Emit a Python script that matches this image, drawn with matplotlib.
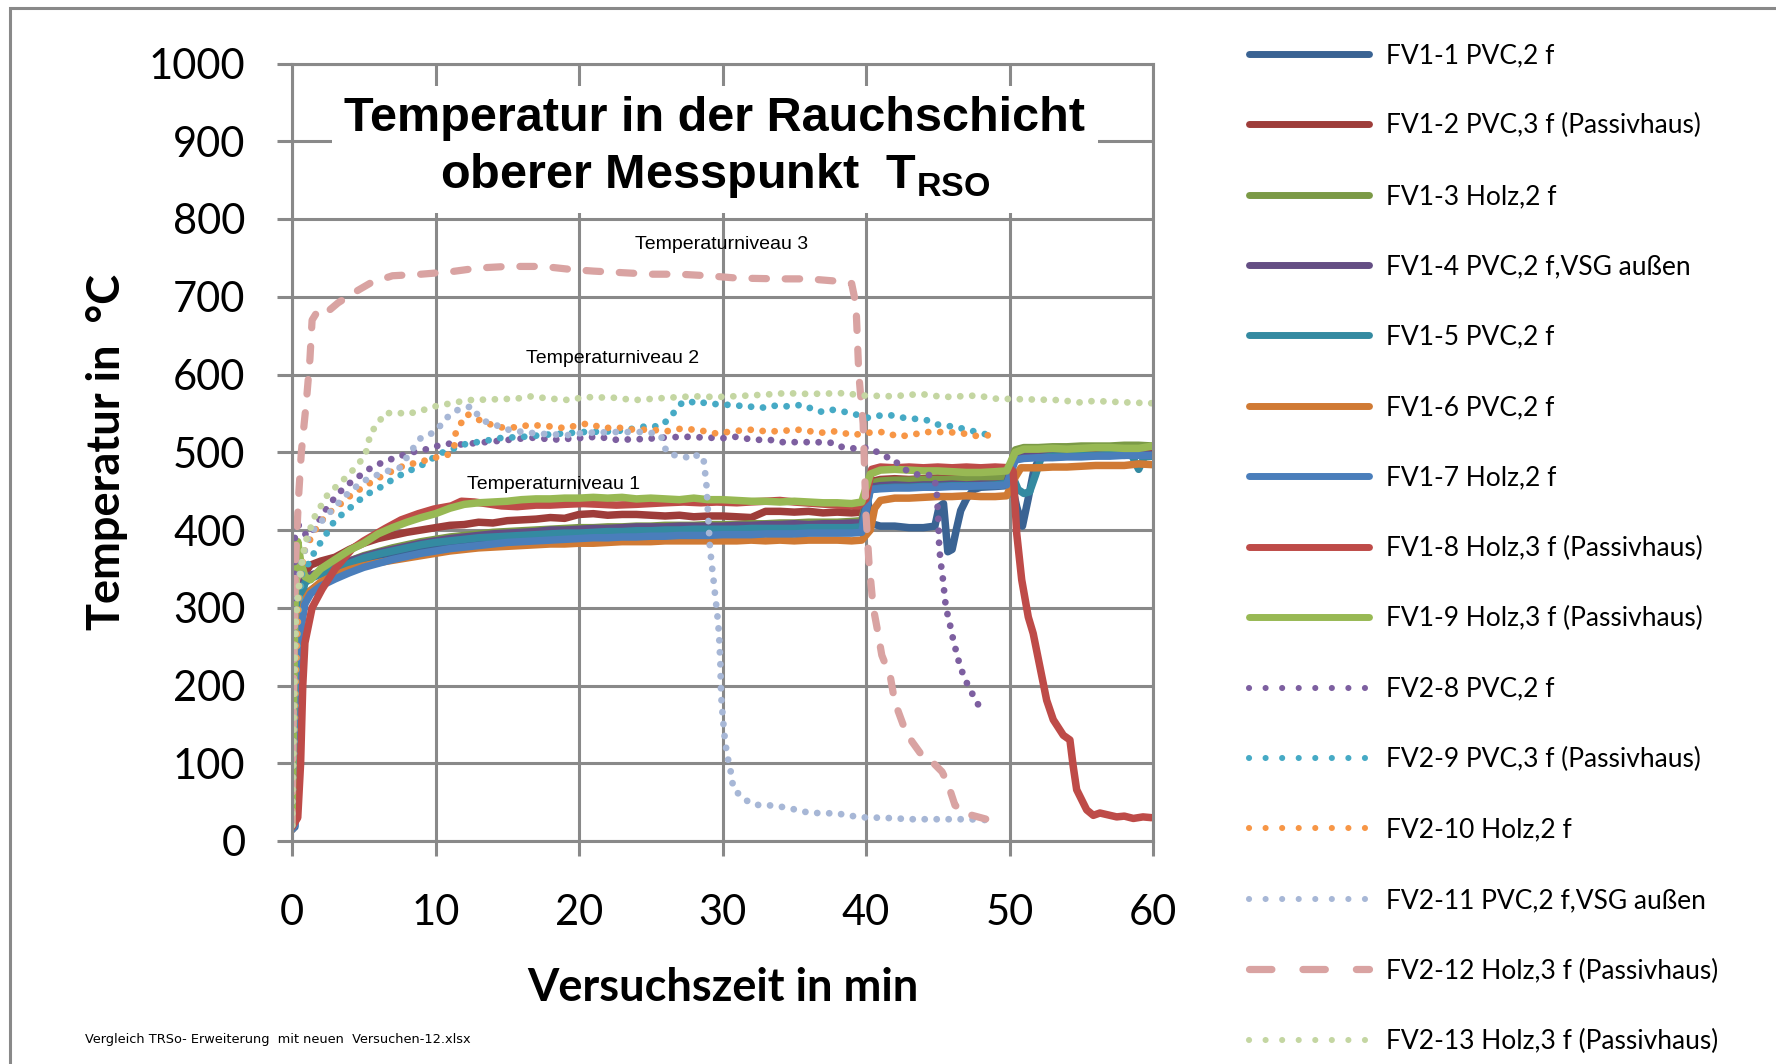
import matplotlib
matplotlib.use("Agg")
import matplotlib.pyplot as plt
from matplotlib.lines import Line2D
from matplotlib.patches import Rectangle

plt.rcParams['font.family'] = ['Lato', 'DejaVu Sans']
plt.rcParams['mathtext.fontset'] = 'custom'
plt.rcParams['mathtext.rm'] = 'Liberation Sans'
plt.rcParams['mathtext.bf'] = 'Liberation Sans:bold'

GRID = '#898989'

# ---- data (minutes, degC) ----
t_start = [0, 0.2, 0.4, 0.6, 0.9, 1.3]
t_mid = [2, 3, 4, 5, 6, 7, 8, 9, 10, 11, 12, 13, 14, 15, 16, 17, 18, 19, 20,
         21, 22, 23, 24, 25, 26, 27, 28, 29, 30, 31, 32, 33, 34, 35, 36, 37,
         38, 39]
t_end = [39.7, 40.3, 41, 42, 43, 44, 45, 46, 47, 48, 49, 49.8, 50.4, 51, 52,
         53, 54, 55, 56, 57, 58, 59, 60]
t_base = t_start + t_mid + t_end

fv1_1_t = [0, 0.2, 0.35, 0.5, 0.7, 1, 1.5] + t_mid + [
    39.7, 40.1, 40.4, 41, 42, 43, 44, 44.8, 45.1, 45.4, 45.7, 46.0, 46.3, 46.6,
    47.0, 47.5, 48, 49, 49.8, 50.2, 50.5, 50.9, 51.3, 51.7, 52.1, 53, 54, 55,
    56, 57, 58, 59, 60]
fv1_1_T = [15, 18, 120, 260, 305, 318, 325,
           331, 340, 348, 355, 361, 366, 371, 375, 378, 381, 383, 385, 387,
           388, 389, 390, 391, 392, 392, 393, 394, 394, 395, 395, 396, 396,
           397, 397, 397, 398, 398, 398, 399, 399, 399, 400, 400, 400,
           401, 440, 408, 405, 405, 403, 403, 405, 430, 434, 372, 375, 401, 425,
           440, 452, 455, 456, 457, 455, 430, 405, 440, 477, 493, 494, 495, 495,
           496, 496, 497, 497, 497]

fv1_2_t = t_base
fv1_2_T = [15, 40, 200, 300, 345, 355,
           360, 365, 375, 383, 389, 393, 397, 400, 403, 406, 407, 410, 409,
           412, 413, 414, 416, 415, 420, 421, 419, 420, 420, 419, 418, 419,
           417, 418, 418, 417, 416, 424, 424, 423, 424, 422, 423, 422,
           423, 462, 465, 466, 465, 466, 467, 466, 467, 466, 468, 468, 500,
           503, 503, 504, 504, 505, 505, 506, 506, 507, 506]

fv1_3_t = t_base
fv1_3_T = [15, 60, 230, 310, 335, 340,
           345, 352, 360, 367, 372, 377, 381, 385, 388, 391, 393, 395, 397,
           398, 399, 400, 401, 402, 403, 403, 404, 404, 405, 405, 406, 406,
           406, 407, 407, 407, 408, 408, 409, 409, 410, 410, 410, 411,
           412, 460, 463, 464, 464, 465, 465, 465, 466, 466, 466, 467, 503,
           506, 506, 507, 507, 508, 508, 508, 509, 509, 508]

fv1_4_t = t_base
fv1_4_T = [15, 70, 260, 320, 338, 342,
           346, 353, 360, 366, 371, 375, 379, 383, 386, 389, 391, 393, 395,
           396, 397, 398, 400, 400, 401, 402, 402, 403, 404, 404, 404, 405,
           405, 405, 405, 406, 406, 407, 407, 408, 407, 408, 408, 409,
           409, 455, 457, 458, 457, 458, 458, 459, 458, 459, 459, 460, 493,
           495, 495, 496, 495, 496, 496, 497, 496, 497, 497]

fv1_5_t = t_start + t_mid + [39.7, 40.3, 41, 42, 43, 44, 45, 46, 47, 48, 49,
                             49.8, 50.2, 50.6, 51, 51.4, 51.8, 52.2, 53, 54,
                             55, 56, 57, 58, 58.5, 59, 59.4, 60]
fv1_5_T = [15, 50, 240, 310, 332, 338,
           343, 350, 357, 364, 369, 373, 377, 381, 384, 386, 388, 390, 391,
           392, 393, 394, 395, 396, 396, 397, 398, 398, 399, 399, 400, 400,
           401, 401, 401, 401, 402, 402, 402, 402, 403, 403, 403, 403,
           404, 452, 454, 455, 455, 456, 456, 457, 457, 457, 458, 460,
           470, 452, 447, 449, 470, 493, 495, 495, 496, 496, 497, 497, 497,
           478, 494, 495]

fv1_6_t = t_start + t_mid + [39.7, 40.3, 40.6, 41, 42, 43, 44, 45, 46, 47, 48,
                             49, 49.8, 50.4, 50.8, 52, 53, 54, 55, 56, 57, 58,
                             59, 60]
fv1_6_T = [15, 25, 160, 280, 310, 322,
           333, 342, 349, 354, 358, 361, 364, 367, 370, 373, 375, 377, 378,
           379, 380, 381, 382, 382, 383, 383, 384, 385, 385, 385, 386, 386,
           386, 386, 386, 386, 387, 386, 387, 386, 387, 387, 387, 386,
           387, 400, 428, 438, 441, 441, 442, 443, 443, 444, 443, 443, 444,
           468, 480, 480, 481, 481, 482, 483, 483, 483, 485, 484]

fv1_7_t = t_base
fv1_7_T = [15, 20, 150, 270, 305, 318,
           328, 337, 345, 352, 357, 362, 366, 370, 373, 376, 378, 380, 382,
           384, 385, 386, 387, 388, 389, 390, 390, 391, 391, 392, 392, 393,
           393, 393, 394, 394, 394, 395, 395, 395, 396, 396, 396, 396,
           397, 452, 453, 454, 454, 455, 455, 456, 456, 457, 457, 458, 490,
           492, 493, 493, 494, 494, 495, 495, 496, 496, 496]

fv1_8_t = [0, 0.4, 0.6, 0.75, 0.9, 1.4, 2.1, 3, 4.2, 5, 6.5, 7.6, 8.8, 9.9,
           11.1, 11.8, 12.7, 13.5, 14.6, 15.7, 17, 18, 19, 20.3, 21.5, 22.6, 24,
           25, 26, 27.3, 28.5, 29.6, 31, 31.9, 33, 34, 35, 36.5, 38, 39.5, 40,
           40.4, 41, 42, 43, 44, 45, 46, 47, 48, 49, 50, 50.26, 50.5, 50.85,
           51.31, 51.65, 52.12, 52.59, 53.05, 53.75, 54.21, 54.44, 54.68, 55.38,
           55.84, 56.3, 57, 57.47, 58, 58.63, 59.3, 59.9]
fv1_8_T = [18, 30, 100, 200, 255, 300, 324, 350, 376, 386, 402, 413, 421, 427,
           431, 437, 436, 434, 431, 430, 432, 432, 433, 434, 433, 432, 433, 434,
           435, 436, 435, 436, 435, 436, 437, 438, 436, 434, 432, 431, 440, 478,
           481, 480, 481, 480, 481, 480, 481, 480, 481, 480, 475, 396, 336, 288,
           267, 224, 181, 156, 136, 130, 96, 66, 40, 33, 36, 33, 31, 32, 29, 31,
           30]

fv1_9_t = t_base
fv1_9_T = [20, 300, 385, 360, 340, 336,
           350, 362, 374, 383, 395, 403, 410, 416, 421, 428, 433, 435, 436,
           437, 439, 440, 440, 441, 441, 442, 441, 442, 440, 441, 440, 439,
           441, 439, 439, 438, 437, 437, 436, 437, 436, 435, 435, 434,
           436, 472, 477, 478, 477, 476, 476, 475, 474, 474, 475, 476, 500,
           504, 504, 505, 504, 505, 506, 506, 505, 505, 508]

fv2_8_t = [0, 0.1, 0.2, 0.35, 0.6, 1.2, 1.8, 2.3, 3, 3.5, 4.2, 4.9, 5.5, 6.2,
           6.9, 7.7, 8.6, 9.4, 10.1, 10.9, 11.8, 12.9, 14.6, 16.2, 17.1, 18,
           19.9, 21.3, 22.6, 24.5, 26.1, 27.3, 28.7, 30, 31, 32.1, 33.3, 34,
           35.1, 36.5, 37.8, 38.4, 39.1, 39.7, 40.3, 40.9, 41.4, 41.9, 42.4,
           42.9, 43.4, 44, 44.6, 44.9, 45.03, 45.1, 45.2, 45.34, 45.46, 45.57,
           45.81, 46.04, 46.28, 46.55, 46.9, 47.36, 47.83]
fv2_8_T = [20, 150, 396, 413, 398, 392, 410, 425, 442, 452, 463, 472, 480, 486,
           491, 496, 501, 504, 508, 511, 510, 512, 515, 518, 519, 516, 518, 520,
           516, 517, 519, 520, 519, 518, 520, 516, 516, 513, 513, 513, 512, 506,
           505, 506, 505, 499, 494, 492, 481, 476, 472, 470, 471, 457, 417, 379,
           359, 340, 319, 300, 282, 262, 244, 225, 208, 191, 175]

fv2_9_t = [0, 0.2, 0.4, 0.7, 1.2, 1.6, 2.5, 3, 3.7, 4.4, 5, 5.7, 6.4, 7, 7.7,
           8.4, 9.1, 9.7, 10.3, 10.9, 11.6, 12.2, 12.9, 13.6, 14.3, 16.2, 18,
           20.3, 22.6, 24, 24.8, 25.6, 26.3, 26.8, 27.2, 27.7, 28.2, 28.8, 29.5,
           30.2, 30.9, 31.6, 32.3, 33, 33.7, 34.4, 35, 35.6, 36.2, 36.8, 37.5,
           38.2, 38.8, 40.2, 40.9, 41.4, 42, 42.7, 43.4, 44.3, 44.9, 45.5, 46.2,
           46.8, 47.5, 48.1, 48.7]
fv2_9_T = [20, 150, 280, 345, 358, 373, 398, 413, 423, 434, 443, 451, 457, 465,
           472, 478, 484, 491, 499, 501, 508, 511, 513, 515, 518, 520, 523, 526,
           527, 531, 534, 533, 543, 556, 564, 566, 562, 564, 562, 561, 561, 558,
           559, 557, 560, 559, 560, 561, 556, 552, 555, 553, 551, 544, 547, 548,
           547, 544, 543, 541, 536, 534, 533, 530, 527, 524, 522]

fv2_10_t = [0, 0.2, 0.5, 0.9, 1.8, 2.5, 3.7, 4.3, 5, 5.8, 6.5, 7.2, 8.1, 8.8,
            9.5, 10.2, 10.9, 11.3, 11.4, 11.8, 12.2, 12.9, 13.4, 14.6, 15.7,
            16.5, 17.6, 19, 20, 20.6, 21.7, 22.6, 23.8, 25, 26.1, 27, 28.2,
            29.6, 30.7, 31.9, 33, 33.7, 35.4, 36.8, 37.9, 39.1, 40, 41.2, 42.3,
            43.3, 44.3, 45.4, 46.6, 47.5, 48.8]
fv2_10_T = [20, 180, 330, 375, 406, 421, 438, 448, 455, 465, 471, 478, 485,
            486, 491, 494, 497, 506, 524, 538, 549, 543, 538, 532, 532, 535,
            534, 531, 535, 537, 531, 532, 529, 529, 527, 530, 529, 524, 527,
            529, 527, 527, 529, 525, 527, 522, 525, 526, 520, 523, 526, 526,
            525, 521, 522]

fv2_11_t = [0, 0.15, 0.3, 0.6, 1.2, 2, 3, 3.6, 4.2, 5, 5.7, 6.5, 7.5, 8.4, 9,
            9.7, 10.2, 10.5, 11.1, 11.6, 12.5, 12.9, 13.4, 14.1, 14.8, 15.7,
            17.1, 19.2, 20.3, 22.6, 24.3, 25, 25.7, 26, 26.3, 27.3, 27.8, 28.3,
            28.66, 28.77, 28.89, 29.0, 29.12, 29.24, 29.35, 29.47, 29.58, 29.7,
            29.77, 29.82, 29.86, 29.88, 29.93, 30.0, 30.1, 30.2, 30.4, 30.6,
            30.75, 31.3, 32.0, 32.6, 33.2, 34.1, 35.2, 36.1, 37.1, 38.1, 39.1,
            40.1, 41.1, 42.1, 43.2, 44.2, 45.3, 46.3, 47.2, 48.3]
fv2_11_T = [20, 200, 300, 354, 394, 410, 430, 442, 452, 463, 469, 475, 480,
            504, 519, 524, 530, 540, 549, 555, 559, 549, 540, 536, 530, 527,
            524, 522, 525, 526, 526, 525, 522, 505, 497, 495, 491, 497, 494,
            477, 456, 418, 379, 357, 340, 319, 301, 280, 261, 241, 224, 202,
            181, 164, 143, 125, 104, 87, 68, 57, 48, 46, 46, 44, 40, 36, 36, 35,
            32, 30, 30, 29, 28, 28, 28, 28, 28, 27]

fv2_12_t = [0, 0.1, 0.25, 0.45, 0.65, 1.0, 1.25, 1.4, 1.8, 2.3, 3.2, 4.2, 5.5,
            7, 9, 11, 13, 15, 17.5, 19.5, 21, 23, 25, 27, 29, 31, 34, 36, 38,
            39, 39.3, 39.5, 39.8, 40.0, 40.2, 40.5, 40.8, 41.1, 41.7, 42.0,
            42.6, 43.2, 43.9, 44.6, 45.3, 45.7, 46.2, 47, 48.6]
fv2_12_T = [20, 200, 360, 440, 500, 565, 620, 670, 682, 678, 692, 704, 718,
            727, 729, 732, 737, 739, 739, 735, 733, 731, 729, 729, 727, 724,
            723, 723, 720, 717, 690, 600, 537, 420, 360, 301, 271, 239, 211,
            179, 149, 128, 110, 102, 89, 74, 46, 35, 27]

fv2_13_t = [0, 0.1, 0.25, 0.46, 0.9, 1.6, 2.5, 3.5, 4.4, 5.1, 5.5, 6.0, 6.4,
            7.4, 7.9, 9.0, 9.5, 10.2, 11.1, 12.2, 14, 15.7, 16.5, 18, 19.4,
            20.3, 22.6, 23.8, 26.1, 28, 29.6, 31.9, 33.7, 34.4, 36, 38.6, 39.6,
            41.9, 43.8, 45.4, 47.8, 48.9, 51.3, 53.6, 54.8, 55.9, 58.3, 60]
fv2_13_T = [20, 150, 280, 325, 383, 418, 446, 463, 480, 496, 526, 536, 550,
            551, 549, 553, 557, 560, 563, 567, 568, 569, 572, 569, 567, 571,
            570, 567, 570, 572, 571, 573, 575, 576, 575, 576, 573, 572, 575,
            571, 573, 569, 568, 567, 564, 566, 564, 563]

labels = ['FV1-1 PVC,2 f', 'FV1-2 PVC,3 f (Passivhaus)', 'FV1-3 Holz,2 f',
          'FV1-4 PVC,2 f,VSG außen', 'FV1-5 PVC,2 f', 'FV1-6 PVC,2 f',
          'FV1-7 Holz,2 f', 'FV1-8 Holz,3 f (Passivhaus)',
          'FV1-9 Holz,3 f (Passivhaus)', 'FV2-8 PVC,2 f',
          'FV2-9 PVC,3 f (Passivhaus)', 'FV2-10 Holz,2 f',
          'FV2-11 PVC,2 f,VSG außen', 'FV2-12 Holz,3 f (Passivhaus)',
          'FV2-13 Holz,3 f (Passivhaus)']

times = [fv1_1_t, fv1_2_t, fv1_3_t, fv1_4_t, fv1_5_t, fv1_6_t, fv1_7_t,
         fv1_8_t, fv1_9_t, fv2_8_t, fv2_9_t, fv2_10_t, fv2_11_t, fv2_12_t,
         fv2_13_t]
temps = [fv1_1_T, fv1_2_T, fv1_3_T, fv1_4_T, fv1_5_T, fv1_6_T, fv1_7_T,
         fv1_8_T, fv1_9_T, fv2_8_T, fv2_9_T, fv2_10_T, fv2_11_T, fv2_12_T,
         fv2_13_T]

colors = ['#3A6393', '#9E3D3A', '#7B9A46', '#644E84', '#348AA1', '#D07A34',
          '#4A7EBB', '#BE4B48', '#98B954', '#7D5FA0', '#46AAC5', '#F79646',
          '#A7B7D6', '#D9A3A2', '#C4D6A2']
kinds = ['solid'] * 9 + ['dot', 'dot', 'dot', 'dot', 'dash', 'dot']

level_texts = ['Temperaturniveau 1', 'Temperaturniveau 2', 'Temperaturniveau 3']
level_x = [18.2, 22.35, 29.9]
level_y = [459, 621, 767]


def style(kind, legend=False):
    if kind == 'solid':
        return dict(lw=5.0 if legend else 5.4, solid_capstyle='round',
                    solid_joinstyle='round')
    if kind == 'dot':
        if legend:
            return dict(lw=4.4, linestyle=(0, (0.01, 2.7)),
                        dash_capstyle='round')
        return dict(lw=4.9, linestyle=(0, (0.01, 1.75)), dash_capstyle='round')
    dash = (0, (3.1, 4.3)) if legend else (0, (2.0, 2.6))
    return dict(lw=5.2, linestyle=dash, dash_capstyle='round')


def main():
    fig = plt.figure(figsize=(17.76, 10.64), dpi=100)
    ax = fig.add_axes([292 / 1776, 1 - 841 / 1064, 861 / 1776, 777.5 / 1064])

    for t, T, c, k in zip(times, temps, colors, kinds):
        ax.plot(t, T, color=c, **style(k))

    ax.set_xlim(0, 60)
    ax.set_ylim(0, 1000)
    ax.set_xticks(range(0, 61, 10))
    ax.set_yticks(range(0, 1001, 100))
    ax.set_axisbelow(True)
    ax.grid(True, color=GRID, lw=2.2)
    for s in ax.spines.values():
        s.set_color(GRID)
        s.set_linewidth(2.2)
    ax.tick_params(direction='out', length=10.5, width=2.2, color=GRID,
                   labelsize=30)
    ax.tick_params(axis='y', pad=23)
    ax.tick_params(axis='x', pad=28)

    ax.set_xlabel('Versuchszeit in min', fontsize=32.5, fontweight='bold')
    ax.xaxis.set_label_coords(0.5, -0.162)
    ax.set_ylabel('Temperatur in  °C', fontsize=32.5, fontweight='bold')
    ax.yaxis.set_label_coords(-0.19, 0.5)

    ax.text(29.47, 891,
            'Temperatur in der Rauchschicht\noberer Messpunkt  T$_{\\mathbf{RSO}}$',
            ha='center', va='center', fontsize=35, fontweight='bold',
            family='Liberation Sans', linespacing=1.26, zorder=5,
            bbox=dict(facecolor='white', edgecolor='none', pad=9))

    for txt, x, y in zip(level_texts, level_x, level_y):
        ax.text(x, y, txt, ha='center', va='center', fontsize=14,
                family='Liberation Sans', zorder=6)

    handles = [Line2D([], [], color=c, **style(k, legend=True))
               for c, k in zip(colors, kinds)]
    fig.legend(handles, labels, loc='upper left',
               bbox_to_anchor=(1249 / 1776, 1 - 43 / 1064),
               frameon=False, prop={'family': 'Lato', 'size': 19},
               handlelength=4.55, handletextpad=0.66, labelspacing=1.72,
               borderpad=0, borderaxespad=0)

    fig.text(85 / 1776, 1 - 1040 / 1064,
             'Vergleich TRSo- Erweiterung  mit neuen  Versuchen-12.xlsx',
             fontsize=9.3, family='Liberation Sans Narrow', va='center')

    fig.add_artist(Rectangle((10 / 1776, -0.05), 1.2, 1 - 8 / 1064 + 0.05,
                             transform=fig.transFigure, fill=False,
                             edgecolor=GRID, lw=2.2))

    fig.savefig('out.png', dpi=100)


main()
